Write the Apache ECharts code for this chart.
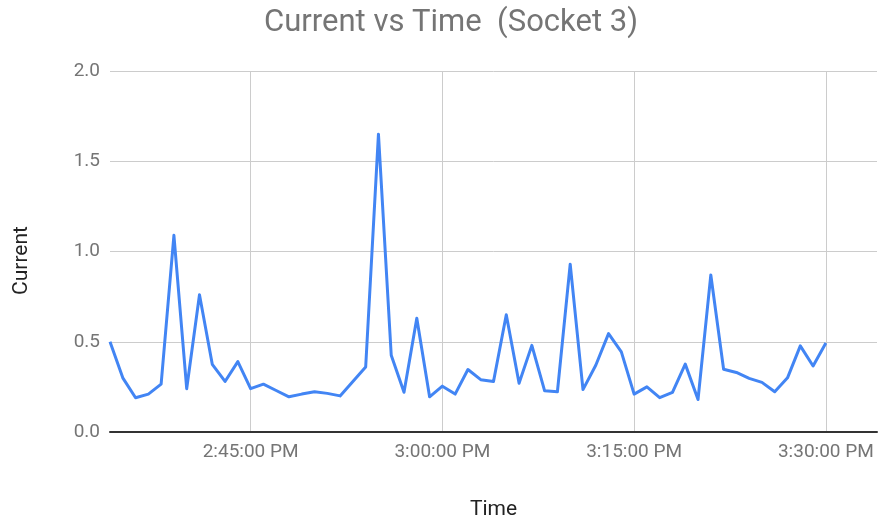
<!DOCTYPE html>
<html>
<head>
<meta charset="utf-8">
<script src="https://cdn.jsdelivr.net/npm/echarts@6/dist/echarts.min.js"></script>
<style>
html,body{margin:0;padding:0;background:#fff;}
#chart{width:879px;height:522px;}
</style>
</head>
<body>
<div id="chart"></div>
<script>
// ---- data ----
var times = [
  '14:34:00','14:35:00','14:36:00','14:37:00','14:38:00','14:39:00','14:40:00','14:41:00',
  '14:42:00','14:43:00','14:44:00','14:45:00','14:46:00','14:47:00','14:48:00','14:49:00',
  '14:50:00','14:51:00','14:52:00','14:54:00','14:55:00','14:56:00','14:57:00','14:58:00',
  '14:59:00','15:00:00','15:01:00','15:02:00','15:03:00','15:04:00','15:05:00','15:06:00',
  '15:07:00','15:08:00','15:09:00','15:10:00','15:11:00','15:12:00','15:13:00','15:14:00',
  '15:15:00','15:16:00','15:17:00','15:18:00','15:19:00','15:20:00','15:21:00','15:22:00',
  '15:23:00','15:24:00','15:25:00','15:26:00','15:27:00','15:28:00','15:29:00','15:30:00'
];
var current = [
  0.50, 0.30, 0.19, 0.21, 0.265, 1.09, 0.24, 0.76,
  0.375, 0.28, 0.39, 0.24, 0.265, 0.23, 0.195, 0.21,
  0.223, 0.214, 0.20, 0.36, 1.65, 0.425, 0.22, 0.63,
  0.195, 0.254, 0.21, 0.346, 0.29, 0.28, 0.65, 0.27,
  0.48, 0.228, 0.223, 0.93, 0.235, 0.37, 0.545, 0.444,
  0.21, 0.25, 0.19, 0.22, 0.376, 0.18, 0.87, 0.348,
  0.33, 0.297, 0.275, 0.223, 0.30, 0.477, 0.366, 0.493
];
var xTickTimes = ['14:45:00','15:00:00','15:15:00','15:30:00'];
var xTickLabels = ['2:45:00 PM','3:00:00 PM','3:15:00 PM','3:30:00 PM'];
var xRange = ['14:34:00','15:34:00'];
var yTicks = [0, 0.5, 1.0, 1.5, 2.0];

function toSec(s){ var p = s.split(':'); return (+p[0])*3600 + (+p[1])*60 + (+p[2]); }

var seriesData = times.map(function(t,i){ return [toSec(t), current[i]]; });
var tickSecs = xTickTimes.map(toSec);

var chart = echarts.init(document.getElementById('chart'), null, {renderer:'canvas'});
chart.setOption({
  animation: false,
  backgroundColor: '#ffffff',
  textStyle: { fontFamily: 'Roboto' },
  title: {
    text: 'Current vs Time  (Socket 3)',
    left: 259,
    top: 3,
    textStyle: { fontFamily: 'Roboto', fontSize: 31, fontWeight: 'normal', color: '#757575' }
  },
  grid: { left: 110, right: 2, top: 71, bottom: 90, containLabel: false, outerBoundsMode: 'none' },
  xAxis: {
    type: 'value',
    min: toSec(xRange[0]),
    max: toSec(xRange[1]),
    name: 'Time',
    nameLocation: 'middle',
    nameGap: 67,
    nameTextStyle: { fontFamily: 'Roboto', fontSize: 21, color: '#222222' },
    axisLine: { show: true, onZero: false, lineStyle: { color: '#333333', width: 2 } },
    axisTick: { show: false, customValues: tickSecs },
    axisLabel: {
      customValues: tickSecs,
      margin: 11,
      fontFamily: 'Roboto', fontSize: 19, color: '#757575',
      formatter: function(v){
        var i = tickSecs.indexOf(v);
        return i >= 0 ? xTickLabels[i] : '';
      }
    },
    splitLine: { show: true, lineStyle: { color: '#cccccc', width: 1 } }
  },
  yAxis: {
    type: 'value',
    min: yTicks[0],
    max: yTicks[yTicks.length-1],
    interval: 0.5,
    name: 'Current',
    nameLocation: 'middle',
    nameGap: 78,
    nameRotate: 90,
    nameTextStyle: { fontFamily: 'Roboto', fontSize: 21, color: '#222222', padding: [0, 18, 0, 0] },
    axisLine: { show: false },
    axisTick: { show: false },
    axisLabel: {
      margin: 10,
      fontFamily: 'Roboto', fontSize: 19, color: '#757575',
      formatter: function(v){ return v.toFixed(1); }
    },
    splitLine: { show: true, lineStyle: { color: '#cccccc', width: 1 } }
  },
  series: [{
    type: 'line',
    data: seriesData,
    showSymbol: false,
    symbol: 'none',
    lineStyle: { color: '#4285f4', width: 3, join: 'round' },
    itemStyle: { color: '#4285f4' }
  }]
});
</script>
</body>
</html>
